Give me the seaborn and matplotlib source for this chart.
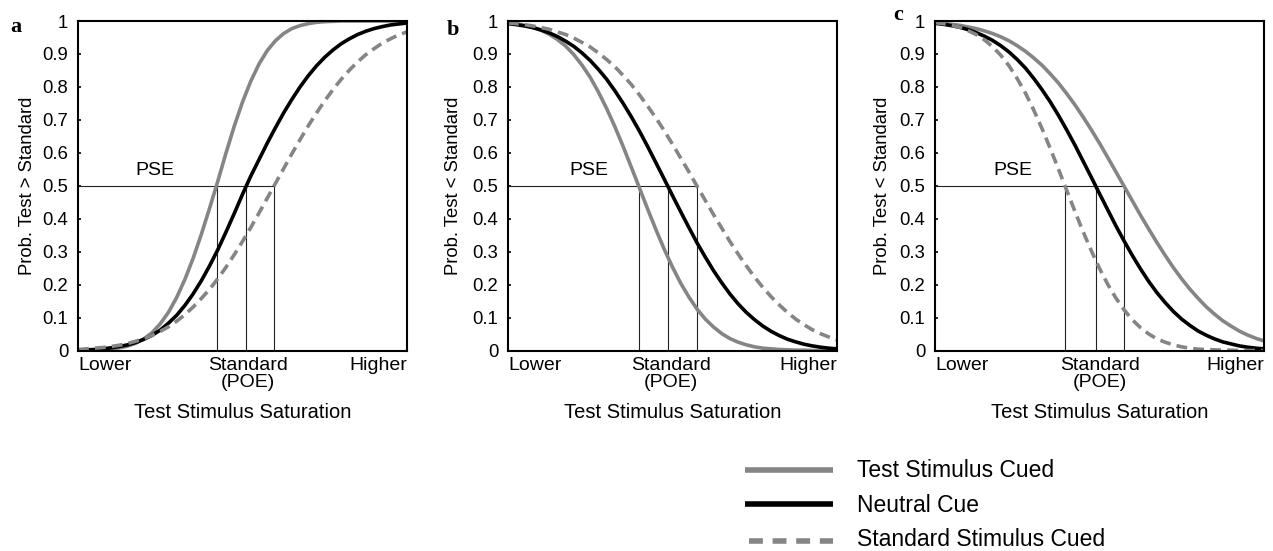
import numpy as np
import pandas as pd
import matplotlib
matplotlib.use("Agg")
import matplotlib.pyplot as plt
from matplotlib.lines import Line2D
import seaborn as sns

# ---------------- data ----------------
# test stimulus saturation, normalised: 0 = "Lower", 1 = "Higher"
saturation = [i / 40 for i in range(41)]

conditions = ["Test Stimulus Cued", "Neutral Cue", "Standard Stimulus Cued"]

# panel a : Prob. Test > Standard
a_test = [0.000, 0.001, 0.001, 0.002, 0.004, 0.008, 0.013, 0.022, 0.035, 0.054, 0.081, 0.116, 0.161, 0.216, 0.280, 0.353, 0.432, 0.514, 0.600, 0.681, 0.754,
          0.817, 0.869, 0.910, 0.940, 0.962, 0.977, 0.986, 0.992, 0.996, 0.998, 0.999, 1.000, 1.000, 1.000, 1.000, 1.000, 1.000, 1.000, 1.000, 1.000]
a_neutral = [0.001, 0.002, 0.003, 0.005, 0.008, 0.012, 0.017, 0.024, 0.034, 0.046, 0.062, 0.083, 0.107, 0.137, 0.172, 0.212, 0.257, 0.306, 0.360, 0.416, 0.474,
             0.529, 0.579, 0.629, 0.676, 0.721, 0.762, 0.800, 0.834, 0.864, 0.890, 0.912, 0.931, 0.946, 0.959, 0.969, 0.977, 0.983, 0.988, 0.991, 0.994]
a_standard = [0.003, 0.005, 0.007, 0.009, 0.012, 0.016, 0.021, 0.028, 0.036, 0.046, 0.058, 0.072, 0.089, 0.109, 0.132, 0.158, 0.186, 0.218, 0.253, 0.291, 0.331,
              0.373, 0.417, 0.462, 0.507, 0.552, 0.597, 0.640, 0.682, 0.721, 0.758, 0.792, 0.823, 0.851, 0.876, 0.898, 0.916, 0.933, 0.946, 0.958, 0.967]

# panel b : Prob. Test < Standard
b_test = [0.995, 0.992, 0.987, 0.981, 0.972, 0.960, 0.944, 0.924, 0.898, 0.866, 0.829, 0.784, 0.734, 0.679, 0.619, 0.556, 0.492, 0.428, 0.366, 0.307, 0.253,
          0.204, 0.162, 0.125, 0.095, 0.071, 0.051, 0.036, 0.025, 0.017, 0.011, 0.007, 0.005, 0.003, 0.002, 0.001, 0.001, 0.000, 0.000, 0.000, 0.000]
b_neutral = [0.992, 0.989, 0.985, 0.980, 0.973, 0.964, 0.953, 0.939, 0.923, 0.903, 0.880, 0.853, 0.823, 0.788, 0.750, 0.709, 0.665, 0.618, 0.569, 0.520, 0.470,
             0.421, 0.373, 0.326, 0.283, 0.242, 0.205, 0.171, 0.141, 0.115, 0.093, 0.074, 0.058, 0.045, 0.034, 0.026, 0.019, 0.014, 0.010, 0.007, 0.005]
b_standard = [0.994, 0.992, 0.989, 0.985, 0.980, 0.975, 0.967, 0.959, 0.948, 0.935, 0.921, 0.903, 0.883, 0.861, 0.835, 0.807, 0.775, 0.741, 0.705, 0.667, 0.626,
              0.584, 0.542, 0.498, 0.455, 0.412, 0.371, 0.330, 0.292, 0.256, 0.222, 0.191, 0.163, 0.138, 0.115, 0.095, 0.078, 0.063, 0.051, 0.041, 0.032]

# panel c : Prob. Test < Standard
c_test = [0.995, 0.993, 0.990, 0.987, 0.982, 0.977, 0.970, 0.962, 0.952, 0.940, 0.925, 0.908, 0.888, 0.866, 0.840, 0.812, 0.780, 0.746, 0.709, 0.670, 0.629,
          0.586, 0.542, 0.498, 0.454, 0.410, 0.368, 0.327, 0.288, 0.251, 0.217, 0.186, 0.158, 0.132, 0.110, 0.090, 0.074, 0.059, 0.047, 0.037, 0.029]
c_neutral = [0.993, 0.990, 0.986, 0.981, 0.974, 0.965, 0.954, 0.941, 0.925, 0.906, 0.883, 0.857, 0.826, 0.792, 0.755, 0.714, 0.670, 0.624, 0.575, 0.526, 0.476,
             0.427, 0.378, 0.332, 0.288, 0.247, 0.209, 0.175, 0.145, 0.118, 0.095, 0.076, 0.059, 0.046, 0.035, 0.026, 0.020, 0.014, 0.010, 0.007, 0.005]
c_standard = [0.995, 0.992, 0.987, 0.981, 0.971, 0.959, 0.943, 0.922, 0.896, 0.864, 0.825, 0.781, 0.730, 0.674, 0.614, 0.551, 0.487, 0.423, 0.361, 0.303, 0.249,
              0.201, 0.159, 0.123, 0.093, 0.069, 0.050, 0.035, 0.025, 0.017, 0.011, 0.007, 0.004, 0.003, 0.002, 0.001, 0.001, 0.000, 0.000, 0.000, 0.000]

# points of subjective equality (x where each curve crosses 0.5)
pse_a = [0.421, 0.511, 0.596]
pse_b = [0.397, 0.485, 0.574]
pse_c = [0.574, 0.488, 0.395]

# x position of the "Standard (POE)" label in each panel
standard_pos = [0.517, 0.496, 0.501]

panel_letters = ["a", "b", "c"]
y_labels = ["Prob. Test > Standard", "Prob. Test < Standard", "Prob. Test < Standard"]
x_label = "Test Stimulus Saturation"
x_tick_labels = ["Lower", "Standard\n(POE)", "Higher"]
y_ticks = [0, 0.1, 0.2, 0.3, 0.4, 0.5, 0.6, 0.7, 0.8, 0.9, 1]
y_tick_labels = ["0", "0.1", "0.2", "0.3", "0.4", "0.5", "0.6", "0.7", "0.8", "0.9", "1"]

# ---------------- style ----------------
sns.set_theme(style="white")
plt.rcParams["font.family"] = ["Liberation Sans", "DejaVu Sans"]
plt.rcParams.update({"text.color": "black", "axes.labelcolor": "black",
                     "xtick.color": "black", "ytick.color": "black",
                     "axes.edgecolor": "black"})

GRAY = "#858585"
palette = {conditions[0]: GRAY, conditions[1]: "black", conditions[2]: GRAY}
dash_map = {conditions[0]: "", conditions[1]: "", conditions[2]: (3.0, 1.7)}

W, H = 1273, 551
fig = plt.figure(figsize=(W / 100, H / 100), dpi=100)

ax_px = [(78, 407), (508, 837), (935, 1264)]   # left/right pixel edges
top_px, bot_px = 21, 350.5
ylab_off = [-50.5, -54.5, -52.5]
pse_text_x = [0.235, 0.245, 0.238]
letter_pos = [(10, 32), (447, 35), (893, 19.5)]

panels = [(a_test, a_neutral, a_standard, pse_a),
          (b_test, b_neutral, b_standard, pse_b),
          (c_test, c_neutral, c_standard, pse_c)]

for i, (t, n, s, pse) in enumerate(panels):
    l, r = ax_px[i]
    ax = fig.add_axes([l / W, (H - bot_px) / H, (r - l) / W, (bot_px - top_px) / H])
    df = pd.DataFrame({
        "x": saturation * 3,
        "p": t + n + s,
        "cond": [conditions[0]] * len(t) + [conditions[1]] * len(n) + [conditions[2]] * len(s),
    })
    # PSE guide lines
    ax.hlines(0.5, 0, max(pse), color="#222222", lw=0.8, zorder=1.5)
    ax.vlines(pse, 0, 0.5, color="#222222", lw=0.8, zorder=1.5)
    sns.lineplot(data=df, x="x", y="p", hue="cond", style="cond", hue_order=conditions,
                 style_order=conditions, palette=palette, dashes=dash_map,
                 linewidth=2.6, legend=False, estimator=None, ax=ax)
    ax.text(pse_text_x[i], 0.545, "PSE", ha="center", va="center", fontsize=14)

    ax.set_xlim(0, 1)
    ax.set_ylim(0, 1)
    ax.set_yticks(y_ticks)
    ax.set_yticklabels(y_tick_labels, fontsize=13.3)
    ax.tick_params(axis="y", direction="in", length=2.5, width=1.2, pad=7, left=True, colors="black")
    ax.set_xticks([0, standard_pos[i], 1])
    ax.set_xticklabels(x_tick_labels, fontsize=14, linespacing=0.95)
    xt = ax.get_xticklabels()
    xt[0].set_ha("left")
    xt[2].set_ha("right")
    ax.tick_params(axis="x", length=0, pad=5, colors="black")
    for sp in ax.spines.values():
        sp.set_visible(True)
        sp.set_color("black")
        sp.set_linewidth(1.5)

    ax.set_xlabel(x_label, fontsize=14.5)
    ax.xaxis.set_label_coords(0.5, -(412 - bot_px) / (bot_px - top_px))
    ax.xaxis.label.set_va("center")
    ax.set_ylabel(y_labels[i], fontsize=13.3)
    ax.yaxis.set_label_coords(ylab_off[i] / (r - l), 0.5)
    ax.yaxis.label.set_va("center")

    lx, ly = letter_pos[i]
    fig.text(lx / W, (H - ly) / H, panel_letters[i], family=["Liberation Serif", "DejaVu Serif"],
             fontweight="bold", fontsize=16, ha="left", va="baseline")

# ---------------- legend (drawn by hand to match placement) ----------------
leg_rows = [(469.7, 476.7), (503.5, 511.7), (540.5, 546.5)]
leg_styles = [dict(color=GRAY, lw=4.0, solid_capstyle="butt"),
              dict(color="black", lw=4.0, solid_capstyle="butt"),
              dict(color=GRAY, lw=4.0, dashes=(2.5, 1.75), dash_capstyle="butt")]
for (ly, tb), st, lab in zip(leg_rows, leg_styles, conditions):
    x0 = 745 if lab != conditions[2] else 749
    fig.add_artist(Line2D([x0 / W, 833 / W], [(H - ly) / H] * 2, transform=fig.transFigure, **st))
    fig.text(857 / W, (H - tb) / H, lab, fontsize=16.5, ha="left", va="baseline")

fig.savefig("out.png", dpi=100)
